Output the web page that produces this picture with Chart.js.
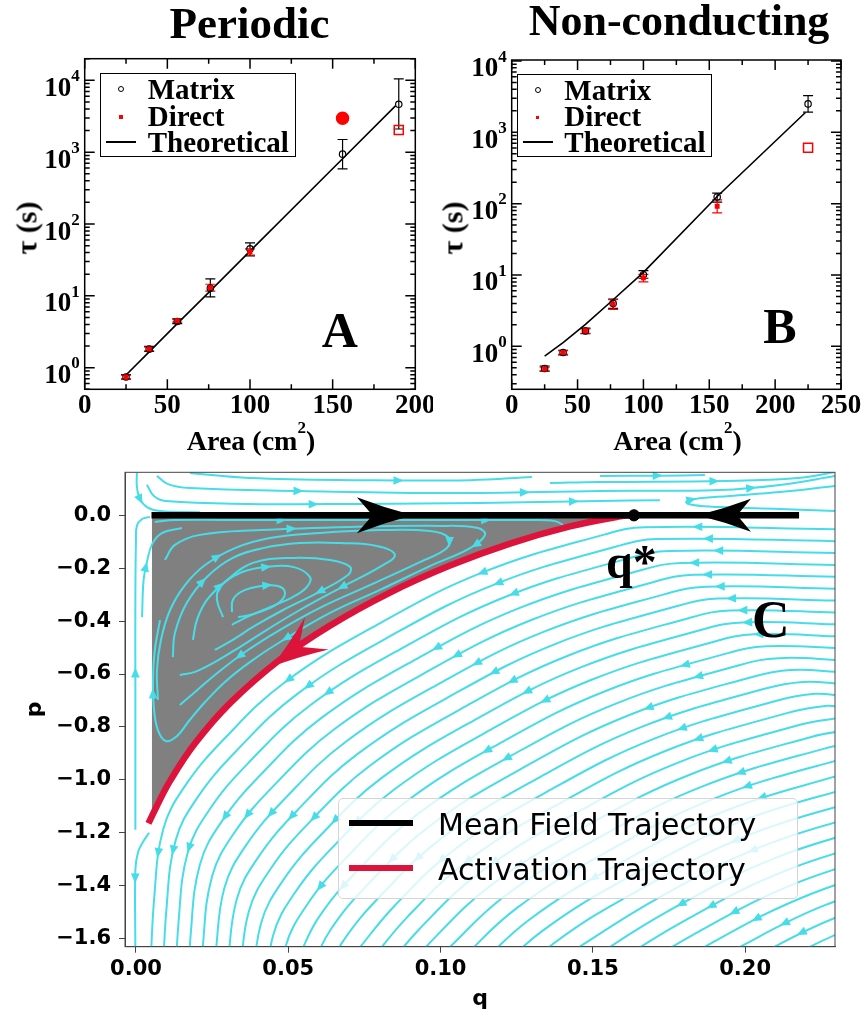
<!DOCTYPE html>
<html>
<head>
<meta charset="utf-8">
<script src="https://cdn.jsdelivr.net/npm/chart.js@4.4.1/dist/chart.umd.min.js"></script>
<style>
  body { margin: 0; background: #fff; }
  #page { position: relative; width: 867px; height: 1016px; overflow: hidden; background: #fff; }
  canvas { position: absolute; }
  .txt { position: absolute; left: 0; top: 0; white-space: nowrap; line-height: 1; color: #000; }
  .probe { display: inline-block; width: 0; height: 0; vertical-align: baseline; }
  .box { position: absolute; box-sizing: border-box; }
</style>
</head>
<body>
<div id="page">
  <canvas id="chartA" width="433" height="460" style="left:0;top:0"></canvas>
  <canvas id="chartB" width="434" height="460" style="left:433px;top:0"></canvas>
  <canvas id="chartC" width="867" height="556" style="left:0;top:460px"></canvas>
</div>
<script>
const SERIF = '"Liberation Serif", "Times New Roman", serif';
const SANS = '"DejaVu Sans", sans-serif';
const CYAN = '#46dde8';
const CRIMSON = '#DC143C';

// ---- panel A (periodic) ----
const areaA = [25, 39, 56, 76, 100, 156, 190];
const matrixA = [0.74, 1.81, 4.4, 12.8, 45, 938, 4640];
const matrixLoA = [0.69, 1.68, 4.1, 9.7, 36, 587, 2100];
const matrixHiA = [0.80, 1.98, 4.8, 17.2, 54.5, 1500, 10500];
const directA = [0.74, 1.82, 4.5, 13.0, 41, 2970, 2040];
const directLoA = [0.70, 1.72, 4.3, 11.6, 37, null, null];
const directHiA = [0.79, 1.93, 4.7, 14.5, 45, null, null];
const theoryAreaA = [25, 39, 56, 76, 100, 156, 188];
const theoryA = [0.79, 1.66, 4.1, 11.7, 42, 810, 4400];

// ---- panel B (non-conducting) ----
const areaB = [25, 39, 56, 77, 100, 156, 225];
const matrixB = [0.49, 0.82, 1.64, 4.0, 10.1, 124, 2500];
const matrixLoB = [0.45, 0.76, 1.50, 3.4, 9.0, 105, 1920];
const matrixHiB = [0.53, 0.88, 1.80, 4.6, 11.5, 140, 3270];
const directB = [0.48, 0.82, 1.65, 3.9, 9.1, 92, 606];
const directLoB = [0.45, 0.77, 1.52, 3.3, 8.0, 74, null];
const directHiB = [0.51, 0.87, 1.76, 4.5, 10.2, 113, null];
const theoryAreaB = [25, 39, 56, 77, 100, 156, 223];
const theoryB = [0.73, 1.13, 2.03, 4.5, 10.9, 126, 1890];

// marker styles for the Direct series (last points drawn differently)
const directStyle = ['rect', 'rect', 'rect', 'rect', 'rect', 'circle', 'rect'];
const directRadiusA = [2.4, 2.4, 2.4, 2.4, 2.4, 6, 6.4];
const directFillA = ['#f00', '#f00', '#f00', '#f00', '#f00', '#f00', 'rgba(0,0,0,0)'];
const directStyleB = ['rect', 'rect', 'rect', 'rect', 'rect', 'rect', 'rect'];
const directRadiusB = [2.4, 2.4, 2.4, 2.4, 2.4, 2.4, 6.4];
const directFillB = ['#f00', '#f00', '#f00', '#f00', '#f00', '#f00', 'rgba(0,0,0,0)'];

// ---- panel C (phase portrait) ----
const ticksCq = [0, 0.05, 0.1, 0.15, 0.2];
const ticksCp = [0, -0.2, -0.4, -0.6, -0.8, -1.0, -1.2, -1.4, -1.6];
const meanField = [[0.0051, 0], [0.2177, 0]];
const qStar = [0.1635, 0];
const grayLeftEdge = [0.0052, -1.13];
const activationPath = [[0.0041,-1.165],[0.0069,-1.098],[0.0112,-1.004],[0.0194,-0.862],[0.0309,-0.710],
  [0.0473,-0.545],[0.0637,-0.417],[0.0834,-0.292],[0.1031,-0.190],[0.1228,-0.107],[0.1425,-0.042],
  [0.1589,-0.004],[0.1635,0]];

const topFlow = [
  [[0.0003,0.161],[0.0003,0.108],[0.0013,0.062],[0.0036,0.031],[0.0079,0.016],[0.021,0.012]],
  [[0.0036,0.115],[0.0059,0.073],[0.0098,0.054],[0.0374,0.043],[0.0735,0.043],[0.1129,0.047],[0.1523,0.054],[0.172,0.057]],
  [[0.0069,0.149],[0.0105,0.118],[0.0177,0.103],[0.0538,0.092],[0.1031,0.084],[0.1523,0.092],[0.1917,0.096],[0.2114,0.115],[0.2298,0.149]],
  [[0.0177,0.160],[0.0374,0.141],[0.0735,0.133],[0.1097,0.133],[0.130,0.145]],
  [[0.1359,0.122],[0.1523,0.126],[0.1934,0.130],[0.2173,0.141],[0.2298,0.164]],
  [[0.1523,0.149],[0.172,0.150],[0.1868,0.152]],
  [[0.2298,0.016],[0.2114,0.024],[0.1917,0.031],[0.1829,0.039],[0.1806,0.050],[0.1835,0.062],[0.195,0.073],[0.2114,0.088],[0.2298,0.111]]
];
const sideFlow = [
  [[-0.0002,-1.189],[-0.0002,-0.925],[-0.0002,-0.623],[-0.0002,-0.320],[0.0,-0.093],[0.0003,-0.040],[0.002,-0.014],[0.0046,-0.006]],
  [[0.002,-0.385],[0.0025,-0.245],[0.0036,-0.177],[0.0053,-0.109],[0.0085,-0.067],[0.0151,-0.048]],
  [[0.0043,-1.200],[0.0023,-1.235],[0.0007,-1.273],[-0.0002,-1.340],[-0.0002,-1.640]]
];
const vortexFlow = [
  [[0.0315,-0.366],[0.0318,-0.320],[0.0351,-0.286],[0.0414,-0.267],[0.0466,-0.267],[0.0489,-0.290],[0.0476,-0.324],[0.0433,-0.354],[0.0374,-0.377],[0.0335,-0.385]],
  [[0.0286,-0.385],[0.0266,-0.320],[0.0276,-0.271],[0.0341,-0.218],[0.0430,-0.195],[0.0515,-0.195],[0.0571,-0.233],[0.0561,-0.271],[0.0515,-0.309],[0.0440,-0.347],[0.0364,-0.385],[0.0315,-0.414]],
  [[0.0187,-0.471],[0.0200,-0.396],[0.0233,-0.320],[0.0299,-0.245],[0.0384,-0.180],[0.0515,-0.161],[0.0637,-0.169],[0.0703,-0.195],[0.0696,-0.226],[0.0594,-0.294],[0.0483,-0.358],[0.0384,-0.422],[0.0318,-0.471],[0.0259,-0.509]],
  [[0.0121,-0.536],[0.0128,-0.445],[0.0167,-0.331],[0.0233,-0.233],[0.0318,-0.161],[0.0417,-0.124],[0.0538,-0.105],[0.0670,-0.105],[0.0791,-0.116],[0.0850,-0.150],[0.0801,-0.195],[0.0670,-0.275],[0.0538,-0.358],[0.0430,-0.433],[0.0341,-0.498],[0.0259,-0.555],[0.0194,-0.592],[0.0144,-0.604]],
  [[0.0072,-0.698],[0.0069,-0.585],[0.0082,-0.471],[0.0112,-0.358],[0.0161,-0.264],[0.0227,-0.188],[0.0325,-0.124],[0.0440,-0.086],[0.0604,-0.067],[0.0801,-0.056],[0.0965,-0.059],[0.1024,-0.082],[0.1021,-0.124],[0.0932,-0.177],[0.0768,-0.264],[0.0604,-0.350],[0.0473,-0.433],[0.0358,-0.517],[0.0259,-0.604],[0.0194,-0.668],[0.0144,-0.717]],
  [[0.0095,-0.169],[0.0128,-0.112],[0.0210,-0.074],[0.0407,-0.056],[0.0703,-0.044],[0.0998,-0.040],[0.1123,-0.048],[0.1146,-0.074],[0.1097,-0.124],[0.0965,-0.192],[0.0801,-0.282],[0.0637,-0.369],[0.0473,-0.479],[0.0374,-0.555],[0.0292,-0.630],[0.0227,-0.706],[0.0177,-0.773],[0.0135,-0.834],[0.0098,-0.853],[0.0072,-0.812],[0.0059,-0.729],[0.0056,-0.623],[0.0062,-0.509],[0.0079,-0.396]],
  [[0.0062,-0.025],[0.0128,-0.018],[0.0374,-0.018],[0.0703,-0.018],[0.1031,-0.018],[0.1294,-0.018],[0.1376,-0.022],[0.1402,-0.036]]
];
const lowerFlow = [
  [[0.232,-0.053],[0.167,-0.045],[0.154,-0.072],[0.114,-0.215],[0.079,-0.415],[0.049,-0.630],[0.029,-0.845],[0.016,-1.025],[0.009,-1.185],[0.006,-1.445],[0.0045,-1.795]],
  [[0.232,-0.098],[0.171,-0.090],[0.158,-0.117],[0.118,-0.260],[0.083,-0.460],[0.053,-0.675],[0.033,-0.890],[0.020,-1.070],[0.013,-1.230],[0.010,-1.490],[0.0085,-1.840]],
  [[0.232,-0.143],[0.175,-0.135],[0.162,-0.162],[0.122,-0.305],[0.087,-0.505],[0.057,-0.720],[0.037,-0.935],[0.024,-1.115],[0.017,-1.275],[0.014,-1.535],[0.0125,-1.885]],
  [[0.232,-0.188],[0.179,-0.180],[0.166,-0.207],[0.126,-0.350],[0.091,-0.550],[0.061,-0.765],[0.041,-0.980],[0.028,-1.160],[0.021,-1.320],[0.018,-1.580],[0.0165,-1.930]],
  [[0.232,-0.233],[0.183,-0.225],[0.170,-0.252],[0.130,-0.395],[0.095,-0.595],[0.065,-0.810],[0.045,-1.025],[0.032,-1.205],[0.025,-1.365],[0.022,-1.625],[0.0205,-1.975]],
  [[0.232,-0.278],[0.187,-0.270],[0.174,-0.297],[0.134,-0.440],[0.099,-0.640],[0.069,-0.855],[0.049,-1.070],[0.036,-1.250],[0.029,-1.410],[0.026,-1.670]],
  [[0.232,-0.323],[0.191,-0.315],[0.178,-0.342],[0.138,-0.485],[0.103,-0.685],[0.073,-0.900],[0.053,-1.115],[0.040,-1.295],[0.033,-1.455],[0.030,-1.715]],
  [[0.232,-0.368],[0.195,-0.360],[0.182,-0.387],[0.142,-0.530],[0.107,-0.730],[0.077,-0.945],[0.057,-1.160],[0.044,-1.340],[0.037,-1.500],[0.034,-1.760]],
  [[0.232,-0.413],[0.199,-0.405],[0.186,-0.432],[0.146,-0.575],[0.111,-0.775],[0.081,-0.990],[0.061,-1.205],[0.048,-1.385],[0.041,-1.545],[0.038,-1.805]],
  [[0.232,-0.458],[0.203,-0.450],[0.190,-0.477],[0.150,-0.620],[0.115,-0.820],[0.085,-1.035],[0.065,-1.250],[0.052,-1.430],[0.045,-1.590],[0.042,-1.850]],
  [[0.232,-0.503],[0.207,-0.495],[0.194,-0.522],[0.154,-0.665],[0.119,-0.865],[0.089,-1.080],[0.069,-1.295],[0.056,-1.475],[0.049,-1.635],[0.046,-1.895]],
  [[0.232,-0.548],[0.211,-0.540],[0.198,-0.567],[0.158,-0.710],[0.123,-0.910],[0.093,-1.125],[0.073,-1.340],[0.060,-1.520],[0.053,-1.680]],
  [[0.232,-0.593],[0.215,-0.585],[0.202,-0.612],[0.162,-0.755],[0.127,-0.955],[0.097,-1.170],[0.077,-1.385],[0.064,-1.565],[0.057,-1.725]],
  [[0.232,-0.638],[0.219,-0.630],[0.206,-0.657],[0.166,-0.800],[0.131,-1.000],[0.101,-1.215],[0.081,-1.430],[0.068,-1.610],[0.061,-1.770]],
  [[0.232,-0.683],[0.223,-0.675],[0.210,-0.702],[0.170,-0.845],[0.135,-1.045],[0.105,-1.260],[0.085,-1.475],[0.072,-1.655]],
  [[0.232,-0.728],[0.227,-0.720],[0.214,-0.747],[0.174,-0.890],[0.139,-1.090],[0.109,-1.305],[0.089,-1.520],[0.076,-1.700]],
  [[0.231,-0.765],[0.218,-0.792],[0.178,-0.935],[0.143,-1.135],[0.113,-1.350],[0.093,-1.565],[0.080,-1.745]],
  [[0.235,-0.810],[0.222,-0.837],[0.182,-0.980],[0.147,-1.180],[0.117,-1.395],[0.097,-1.610],[0.084,-1.790]],
  [[0.239,-0.855],[0.226,-0.882],[0.186,-1.025],[0.151,-1.225],[0.121,-1.440],[0.101,-1.655]],
  [[0.243,-0.900],[0.230,-0.927],[0.190,-1.070],[0.155,-1.270],[0.125,-1.485],[0.105,-1.700]],
  [[0.234,-0.972],[0.194,-1.115],[0.159,-1.315],[0.129,-1.530],[0.109,-1.745]],
  [[0.238,-1.017],[0.198,-1.160],[0.163,-1.360],[0.133,-1.575],[0.113,-1.790]],
  [[0.242,-1.062],[0.202,-1.205],[0.167,-1.405],[0.137,-1.620],[0.117,-1.835]],
  [[0.246,-1.107],[0.206,-1.250],[0.171,-1.450],[0.141,-1.665]],
  [[0.250,-1.152],[0.210,-1.295],[0.175,-1.495],[0.145,-1.710]],
  [[0.254,-1.197],[0.214,-1.340],[0.179,-1.540],[0.149,-1.755]],
  [[0.258,-1.242],[0.218,-1.385],[0.183,-1.585],[0.153,-1.800]],
  [[0.262,-1.287],[0.222,-1.430],[0.187,-1.630],[0.157,-1.845]],
  [[0.266,-1.332],[0.226,-1.475],[0.191,-1.675]],
  [[0.270,-1.377],[0.230,-1.520],[0.195,-1.720]],
  [[0.274,-1.422],[0.234,-1.565],[0.199,-1.765]]
];

// big arrow heads on the trajectories (tip, a point behind it, size)
const trajArrows = [
  { tip: [0.0909, 0], tail: [0.06, 0], color: '#000', len: 56, half: 18, notch: 0.72 },
  { tip: [0.1845, 0], tail: [0.21, 0], color: '#000', len: 53, half: 16.5, notch: 0.74 },
  { tip: [0.0446, -0.572], tail: [0.058, -0.458], color: CRIMSON, len: 56, half: 20, notch: 0.6 }
];

Chart.defaults.animation = false;
Chart.defaults.events = [];

const pairs = (xs, ys) => xs.map((x, i) => ({ x, y: ys[i] }));
const pts = (list) => list.map(([x, y]) => ({ x, y }));
// keep the plot area exactly where layout.padding + afterFit put it
const noOverflow = (s) => { s.paddingTop = 0; s.paddingBottom = 0; s.paddingLeft = 0; s.paddingRight = 0; };

// xmgrace style frame: box, inward ticks on all sides, 10^n labels
const graceFrame = {
  id: 'graceFrame',
  afterDraw(chart, args, opts) {
    const { ctx, chartArea: a, scales: { x, y } } = chart;
    ctx.save();
    ctx.strokeStyle = '#000';
    ctx.lineWidth = 1.5;
    ctx.strokeRect(a.left, a.top, a.right - a.left, a.bottom - a.top);
    ctx.beginPath();
    for (let v = x.min; v <= x.max + 1e-9; v += opts.xMinor) {
      const px = x.getPixelForValue(v);
      const major = Math.abs(v / opts.xMajor - Math.round(v / opts.xMajor)) < 1e-6;
      const len = major ? 10 : 5;
      ctx.moveTo(px, a.bottom); ctx.lineTo(px, a.bottom - len);
      ctx.moveTo(px, a.top); ctx.lineTo(px, a.top + len);
    }
    const e0 = Math.floor(Math.log10(y.min)), e1 = Math.ceil(Math.log10(y.max));
    for (let e = e0; e <= e1; e++) {
      for (let m = 1; m <= 9; m++) {
        const v = m * Math.pow(10, e);
        if (v < y.min || v > y.max) continue;
        const py = y.getPixelForValue(v);
        const len = m === 1 ? 10 : 5;
        ctx.moveTo(a.left, py); ctx.lineTo(a.left + len, py);
        ctx.moveTo(a.right, py); ctx.lineTo(a.right - len, py);
      }
    }
    ctx.stroke();
    ctx.fillStyle = '#000';
    ctx.textAlign = 'right';
    ctx.textBaseline = 'alphabetic';
    opts.decades.forEach((e) => {
      const py = y.getPixelForValue(Math.pow(10, e));
      ctx.font = 'bold 17px ' + SERIF;
      const ew = ctx.measureText(String(e)).width;
      ctx.fillText(String(e), a.left - 5, py + 0.7);
      ctx.font = 'bold 27px ' + SERIF;
      ctx.fillText('10', a.left - 5 - ew, py + 15.5);
    });
    ctx.restore();
  }
};

const errorBars = {
  id: 'errorBars',
  beforeDatasetsDraw(chart) {
    const { ctx, scales: { y } } = chart;
    chart.data.datasets.forEach((ds, i) => {
      if (!ds.errLo) return;
      const meta = chart.getDatasetMeta(i);
      ctx.save();
      ctx.strokeStyle = ds.errColor;
      ctx.lineWidth = 1.2;
      ctx.beginPath();
      meta.data.forEach((pt, j) => {
        if (ds.errLo[j] == null) return;
        const lo = y.getPixelForValue(ds.errLo[j]);
        const hi = y.getPixelForValue(ds.errHi[j]);
        ctx.moveTo(pt.x, lo); ctx.lineTo(pt.x, hi);
        ctx.moveTo(pt.x - 5, lo); ctx.lineTo(pt.x + 5, lo);
        ctx.moveTo(pt.x - 5, hi); ctx.lineTo(pt.x + 5, hi);
      });
      ctx.stroke();
      ctx.restore();
    });
  }
};

function tauChart(canvasId, cfg) {
  const tickFont = { family: SERIF, size: 27, weight: 'bold' };
  return new Chart(document.getElementById(canvasId), {
    type: 'line',
    data: {
      datasets: [
        { label: 'Theoretical', data: pairs(cfg.theoryX, cfg.theoryY), borderColor: '#000', borderWidth: 1.6, pointRadius: 0, order: 3 },
        { label: 'Matrix', data: pairs(cfg.x, cfg.matrix), showLine: false, pointStyle: 'circle', pointRadius: 3.2,
          pointBorderColor: '#000', pointBackgroundColor: 'rgba(0,0,0,0)', pointBorderWidth: 1.2,
          errLo: cfg.matrixLo, errHi: cfg.matrixHi, errColor: '#000', order: 2 },
        { label: 'Direct', data: pairs(cfg.x, cfg.direct), showLine: false, pointStyle: cfg.style, pointRadius: cfg.radius,
          pointBorderColor: '#f00', pointBackgroundColor: cfg.fill, pointBorderWidth: 1.5,
          errLo: cfg.directLo, errHi: cfg.directHi, errColor: '#f00', order: 1 }
      ]
    },
    options: {
      responsive: false,
      layout: { padding: { top: cfg.padTop, right: cfg.padRight, left: 0, bottom: 0 } },
      plugins: { legend: { display: false }, tooltip: { enabled: false },
        graceFrame: { xMajor: 50, xMinor: 25, decades: [0, 1, 2, 3, 4] } },
      scales: {
        x: { type: 'linear', min: 0, max: cfg.xMax,
          ticks: { stepSize: 50, padding: 1, font: tickFont, color: '#000', maxRotation: 0 },
          grid: { display: false, drawTicks: false }, border: { display: false },
          afterFit: (s) => { s.height = 70.7; noOverflow(s); } },
        y: { type: 'logarithmic', min: cfg.yMin, max: cfg.yMax,
          ticks: { display: false }, grid: { display: false, drawTicks: false }, border: { display: false },
          afterFit: (s) => { s.width = cfg.yWidth; noOverflow(s); } }
      }
    },
    plugins: [errorBars, graceFrame]
  });
}

tauChart('chartA', {
  x: areaA, matrix: matrixA, matrixLo: matrixLoA, matrixHi: matrixHiA,
  direct: directA, directLo: directLoA, directHi: directHiA,
  theoryX: theoryAreaA, theoryY: theoryA,
  style: directStyle, radius: directRadiusA, fill: directFillA,
  xMax: 200, yMin: 0.5, yMax: 2e4, padTop: 58.7, padRight: 17.7, yWidth: 84.7
});
tauChart('chartB', {
  x: areaB, matrix: matrixB, matrixLo: matrixLoB, matrixHi: matrixHiB,
  direct: directB, directLo: directLoB, directHi: directHiB,
  theoryX: theoryAreaB, theoryY: theoryB,
  style: directStyleB, radius: directRadiusB, fill: directFillB,
  xMax: 250, yMin: 0.25, yMax: 1.03e4, padTop: 60, padRight: 26, yWidth: 78.7
});

// ---------- panel C ----------
function bezierSamples(meta) {
  const el = meta.data, out = [];
  for (let i = 0; i < el.length - 1; i++) {
    const a = el[i], b = el[i + 1];
    const c1x = a.cp2x ?? a.x, c1y = a.cp2y ?? a.y, c2x = b.cp1x ?? b.x, c2y = b.cp1y ?? b.y;
    for (let s = 0; s < 16; s++) {
      const t = s / 16, m = 1 - t;
      out.push([m * m * m * a.x + 3 * m * m * t * c1x + 3 * m * t * t * c2x + t * t * t * b.x,
                m * m * m * a.y + 3 * m * m * t * c1y + 3 * m * t * t * c2y + t * t * t * b.y]);
    }
  }
  const last = el[el.length - 1];
  out.push([last.x, last.y]);
  return out;
}

function smallHead(ctx, x, y, ux, uy) {
  const L = 10, W = 4.3;
  ctx.beginPath();
  ctx.moveTo(x + ux * L / 2, y + uy * L / 2);
  ctx.lineTo(x - ux * L / 2 - uy * W, y - uy * L / 2 + ux * W);
  ctx.lineTo(x - ux * L / 2 + uy * W, y - uy * L / 2 - ux * W);
  ctx.closePath();
  ctx.fill();
}

function stealth(ctx, tip, tail, spec) {
  let ux = tip.x - tail.x, uy = tip.y - tail.y;
  const d = Math.hypot(ux, uy); ux /= d; uy /= d;
  const nx = -uy, ny = ux;
  const bx = tip.x - ux * spec.len, by = tip.y - uy * spec.len;
  const ix = tip.x - ux * spec.len * spec.notch, iy = tip.y - uy * spec.len * spec.notch;
  const mx = tip.x - ux * spec.len * 0.5, my = tip.y - uy * spec.len * 0.5;
  const h = spec.half;
  ctx.beginPath();
  ctx.moveTo(tip.x, tip.y);
  ctx.quadraticCurveTo(mx + nx * h * 0.4, my + ny * h * 0.4, bx + nx * h, by + ny * h);
  ctx.lineTo(ix, iy);
  ctx.lineTo(bx - nx * h, by - ny * h);
  ctx.quadraticCurveTo(mx - nx * h * 0.4, my - ny * h * 0.4, tip.x, tip.y);
  ctx.closePath();
  ctx.fillStyle = spec.color;
  ctx.fill();
}

const flowDecor = {
  id: 'flowDecor',
  afterDatasetDraw(chart, args) {
    const ds = chart.data.datasets[args.index];
    if (!ds.arrows) return;
    const a = chart.chartArea, ctx = chart.ctx;
    const s = bezierSamples(args.meta);
    const inside = (p) => p[0] >= a.left && p[0] <= a.right && p[1] >= a.top && p[1] <= a.bottom;
    let total = 0;
    for (let i = 1; i < s.length; i++) {
      if (inside(s[i - 1]) && inside(s[i])) total += Math.hypot(s[i][0] - s[i - 1][0], s[i][1] - s[i - 1][1]);
    }
    if (total < 25) return;
    const n = Math.max(1, Math.round(total / 240));
    const shift = ((ds.arrowSeed * 37) % 40 - 20) / 100;
    const targets = [];
    for (let j = 0; j < n; j++) targets.push(Math.min(total - 6, Math.max(6, (j + 0.5 + shift) * total / n)));
    ctx.save();
    ctx.fillStyle = CYAN;
    let acc = 0, k = 0;
    for (let i = 1; i < s.length && k < targets.length; i++) {
      const p0 = s[i - 1], p1 = s[i];
      if (!inside(p0) || !inside(p1)) continue;
      const d = Math.hypot(p1[0] - p0[0], p1[1] - p0[1]);
      while (k < targets.length && acc + d >= targets[k] && d > 0) {
        const t = (targets[k] - acc) / d;
        smallHead(ctx, p0[0] + (p1[0] - p0[0]) * t, p0[1] + (p1[1] - p0[1]) * t, (p1[0] - p0[0]) / d, (p1[1] - p0[1]) / d);
        k++;
      }
      acc += d;
    }
    ctx.restore();
  },
  afterDatasetsDraw(chart) {
    const { ctx, chartArea: a, scales: { x, y } } = chart;
    ctx.save();
    trajArrows.forEach((spec) => {
      const tip = { x: x.getPixelForValue(spec.tip[0]), y: y.getPixelForValue(spec.tip[1]) };
      const tail = { x: x.getPixelForValue(spec.tail[0]), y: y.getPixelForValue(spec.tail[1]) };
      stealth(ctx, tip, tail, spec);
    });
    ctx.strokeStyle = '#444';
    ctx.lineWidth = 1;
    ctx.strokeRect(a.left, a.top, a.right - a.left, a.bottom - a.top);
    ctx.restore();
  }
};

const flowSets = [...topFlow, ...sideFlow, ...vortexFlow, ...lowerFlow].map((line, i) => ({
  data: pts(line), borderColor: CYAN, borderWidth: 2, pointRadius: 0, tension: 0.4,
  capBezierPoints: false, fill: false, order: 4, arrows: true, arrowSeed: i
}));

const sansTick = { family: SANS, size: 21, weight: 'bold' };
new Chart(document.getElementById('chartC'), {
  type: 'line',
  data: {
    datasets: [
      { data: pts([grayLeftEdge, ...activationPath.filter((p) => p[0] > grayLeftEdge[0])]),
        borderWidth: 0, borderColor: 'rgba(0,0,0,0)', backgroundColor: '#808080', pointRadius: 0,
        tension: 0.4, capBezierPoints: false, fill: { value: 0 }, order: 5 },
      ...flowSets,
      { data: pts(activationPath), borderColor: CRIMSON, borderWidth: 6.5, pointRadius: 0, tension: 0.4,
        capBezierPoints: false, fill: false, order: 2 },
      { data: pts(meanField), borderColor: '#000', borderWidth: 6.5, pointRadius: 0, fill: false, borderCapStyle: 'butt', order: 1 },
      { data: pts([qStar]), showLine: false, pointRadius: 5.6, pointBackgroundColor: '#000', pointBorderColor: '#000', order: 0 }
    ]
  },
  options: {
    responsive: false,
    layout: { padding: { top: 12.3, right: 32, left: 0, bottom: 0 } },
    plugins: { legend: { display: false }, tooltip: { enabled: false } },
    scales: {
      x: { type: 'linear', min: -0.0036, max: 0.2295,
        afterBuildTicks: (s) => { s.ticks = ticksCq.map((v) => ({ value: v })); },
        ticks: { callback: (v) => v.toFixed(2), font: sansTick, color: '#000', padding: 4, maxRotation: 0, autoSkip: false },
        grid: { display: true, drawOnChartArea: false, drawTicks: true, tickLength: 6, tickColor: '#444', color: '#444' },
        border: { display: true, color: '#444', width: 1 },
        title: { display: true, text: 'q', font: { family: SANS, size: 22, weight: 'bold' }, color: '#000', padding: { top: 0, bottom: 4 } },
        afterFit: (s) => { s.height = 69.3; noOverflow(s); } },
      y: { type: 'linear', min: -1.631, max: 0.1626,
        afterBuildTicks: (s) => { s.ticks = ticksCp.map((v) => ({ value: v })); },
        ticks: { callback: (v) => (v < 0 ? '\u2212' : '') + Math.abs(v).toFixed(1), font: sansTick, color: '#000', padding: 8, autoSkip: false },
        grid: { display: true, drawOnChartArea: false, drawTicks: true, tickLength: 6, tickColor: '#444', color: '#444' },
        border: { display: true, color: '#444', width: 1 },
        title: { display: true, text: 'p', font: { family: SANS, size: 22, weight: 'bold' }, color: '#000', padding: { top: 22, bottom: 0 } },
        afterFit: (s) => { s.width = 125; noOverflow(s); } }
    }
  },
  plugins: [flowDecor]
});

// ---------- html text, legends ----------
const page = document.getElementById('page');
function text(html, x, base, font, align) {
  const el = document.createElement('div');
  el.className = 'txt';
  el.style.font = font;
  el.innerHTML = html + '<span class="probe"></span>';
  page.appendChild(el);
  const r = el.getBoundingClientRect();
  const off = el.querySelector('.probe').getBoundingClientRect().top - r.top;
  const left = align === 'center' ? x - r.width / 2 : x;
  el.style.left = left + 'px';
  el.style.top = (base - off) + 'px';
  return el;
}
function vtext(html, cx, cy, font) {
  const el = document.createElement('div');
  el.className = 'txt';
  el.style.font = font;
  el.innerHTML = html;
  page.appendChild(el);
  const r = el.getBoundingClientRect();
  el.style.left = (cx - r.width / 2) + 'px';
  el.style.top = (cy - r.height / 2) + 'px';
  el.style.transform = 'rotate(-90deg)';
}
function box(x, y, w, h, css) {
  const el = document.createElement('div');
  el.className = 'box';
  Object.assign(el.style, { left: x + 'px', top: y + 'px', width: w + 'px', height: h + 'px' }, css);
  page.appendChild(el);
}

const titleFont = (px) => 'bold ' + px + 'px ' + SERIF;
text('Periodic', 249.5, 38, titleFont(45), 'center');
text('Non-conducting', 679, 34.5, titleFont(44), 'center');

const areaTitle = 'Area (cm<span style="font-size:17px;position:relative;top:-17px">2</span>)';
text(areaTitle, 251, 450, titleFont(28), 'center');
text(areaTitle, 677.5, 450, titleFont(28), 'center');
vtext('\u03c4 (s)', 26, 228, titleFont(30));
vtext('\u03c4 (s)', 452.5, 227.5, titleFont(30));

function tauLegend(bx, by, bw, bh, symX, textX, bases) {
  box(bx, by, bw, bh, { border: '1.5px solid #000', background: '#fff' });
  box(symX - 3.2, bases[0] - 13.2, 6.4, 6.4, { border: '1.2px solid #000', borderRadius: '50%' });
  box(symX - 1.7, bases[1] - 10.2, 3.4, 3.4, { background: '#f00' });
  box(symX - 15, bases[2] - 10.6, 30, 1.6, { background: '#000' });
  text('Matrix', textX, bases[0], titleFont(29));
  text('Direct', textX, bases[1], titleFont(29));
  text('Theoretical', textX, bases[2], titleFont(29));
}
tauLegend(100, 73.3, 196, 83.7, 121, 147.7, [99.3, 125.5, 151.7]);
tauLegend(516.7, 74.3, 195.6, 83, 537.7, 564.3, [100, 126, 152]);

text('A', 321.7, 346.7, titleFont(50));
text('B', 763.3, 343.3, titleFont(50));
text('C', 752, 637, titleFont(52));
text('q*', 606, 578, titleFont(48));

box(338.3, 798.3, 460, 101, { border: '1px solid #d5d5d5', borderRadius: '5px', background: 'rgba(255,255,255,0.8)' });
box(349.3, 819.7, 64, 6.4, { background: '#000' });
box(349.3, 865.1, 64, 6.4, { background: CRIMSON });
text('Mean Field Trajectory', 438, 835, '30px ' + SANS);
text('Activation Trajectory', 438, 880, '30px ' + SANS);
</script>
</body>
</html>
